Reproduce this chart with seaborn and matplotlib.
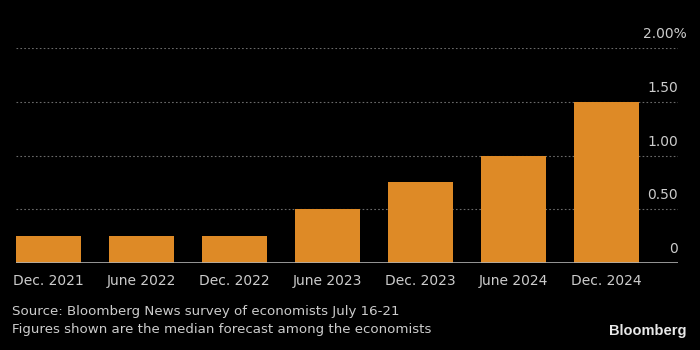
import matplotlib
matplotlib.use("Agg")
import matplotlib.pyplot as plt
import matplotlib.transforms as mtransforms
import seaborn as sns
import pandas as pd

# --- datos ---
periodos = ["Dec. 2021", "June 2022", "Dec. 2022", "June 2023",
            "Dec. 2023", "June 2024", "Dec. 2024"]
tasas = [0.25, 0.25, 0.25, 0.50, 0.75, 1.00, 1.50]
ticks_y = [0, 0.5, 1.0, 1.5, 2.0]
etiquetas_y = ["0", "0.50", "1.00", "1.50", "2.00%"]

df = pd.DataFrame({"periodo": periodos, "tasa": tasas})

sns.set_style("dark")
plt.rcParams["font.family"] = ["DejaVu Sans"]

NEGRO = "#000000"
NARANJA = "#DE8A26"
GRIS = "#cccccc"

fig = plt.figure(figsize=(7, 3.5), dpi=100, facecolor=NEGRO)
ax = fig.add_axes([16 / 700, 87 / 350, 662 / 700, 215 / 350])
ax.set_facecolor(NEGRO)

sns.barplot(data=df, x="periodo", y="tasa", color=NARANJA, width=0.7,
            saturation=1, linewidth=0, edgecolor="none", ax=ax)

ax.set_xlim(-0.35, 6.77)
ax.set_ylim(0, 2.0)

# rejilla punteada
for v in ticks_y[1:]:
    ax.axhline(v, color="#6a6a6a", lw=0.8, ls=(0, (1.5, 2)), zorder=0)
ax.axhline(0, color="#b0b0b0", lw=1.2, zorder=3)

for s in ax.spines.values():
    s.set_visible(False)
ax.grid(False)

ax.set_yticks(ticks_y)
ax.set_yticklabels(etiquetas_y)
ax.yaxis.tick_right()
ax.tick_params(axis="y", length=0, pad=0, labelsize=10, colors=GRIS)
subir = mtransforms.ScaledTranslation(0, 7 / 100, fig.dpi_scale_trans)
for lab in ax.get_yticklabels():
    lab.set_ha("right")
    lab.set_va("bottom")
    lab.set_transform(lab.get_transform() + subir)
# el signo % sobresale a la derecha
ultimo = ax.get_yticklabels()[-1]
ultimo.set_transform(ultimo.get_transform() +
                     mtransforms.ScaledTranslation(9 / 100, 0, fig.dpi_scale_trans))
ax.tick_params(axis="x", length=0, pad=8, labelsize=10, colors=GRIS)
ax.set_xlabel("")
ax.set_ylabel("")

fig.text(12 / 700, 1 - 312 / 350, "Source: Bloomberg News survey of economists July 16-21",
         color=GRIS, fontsize=9.6, va="center", ha="left")
fig.text(12 / 700, 1 - 329 / 350, "Figures shown are the median forecast among the economists",
         color=GRIS, fontsize=9.6, va="center", ha="left")
fig.text(686 / 700, 1 - 331 / 350, "Bloomberg", color="#e8e8e8", fontsize=10.5,
         fontweight="bold", va="center", ha="right",
         family=["Liberation Sans", "DejaVu Sans"])

fig.savefig("out.png", dpi=100, facecolor=NEGRO)
